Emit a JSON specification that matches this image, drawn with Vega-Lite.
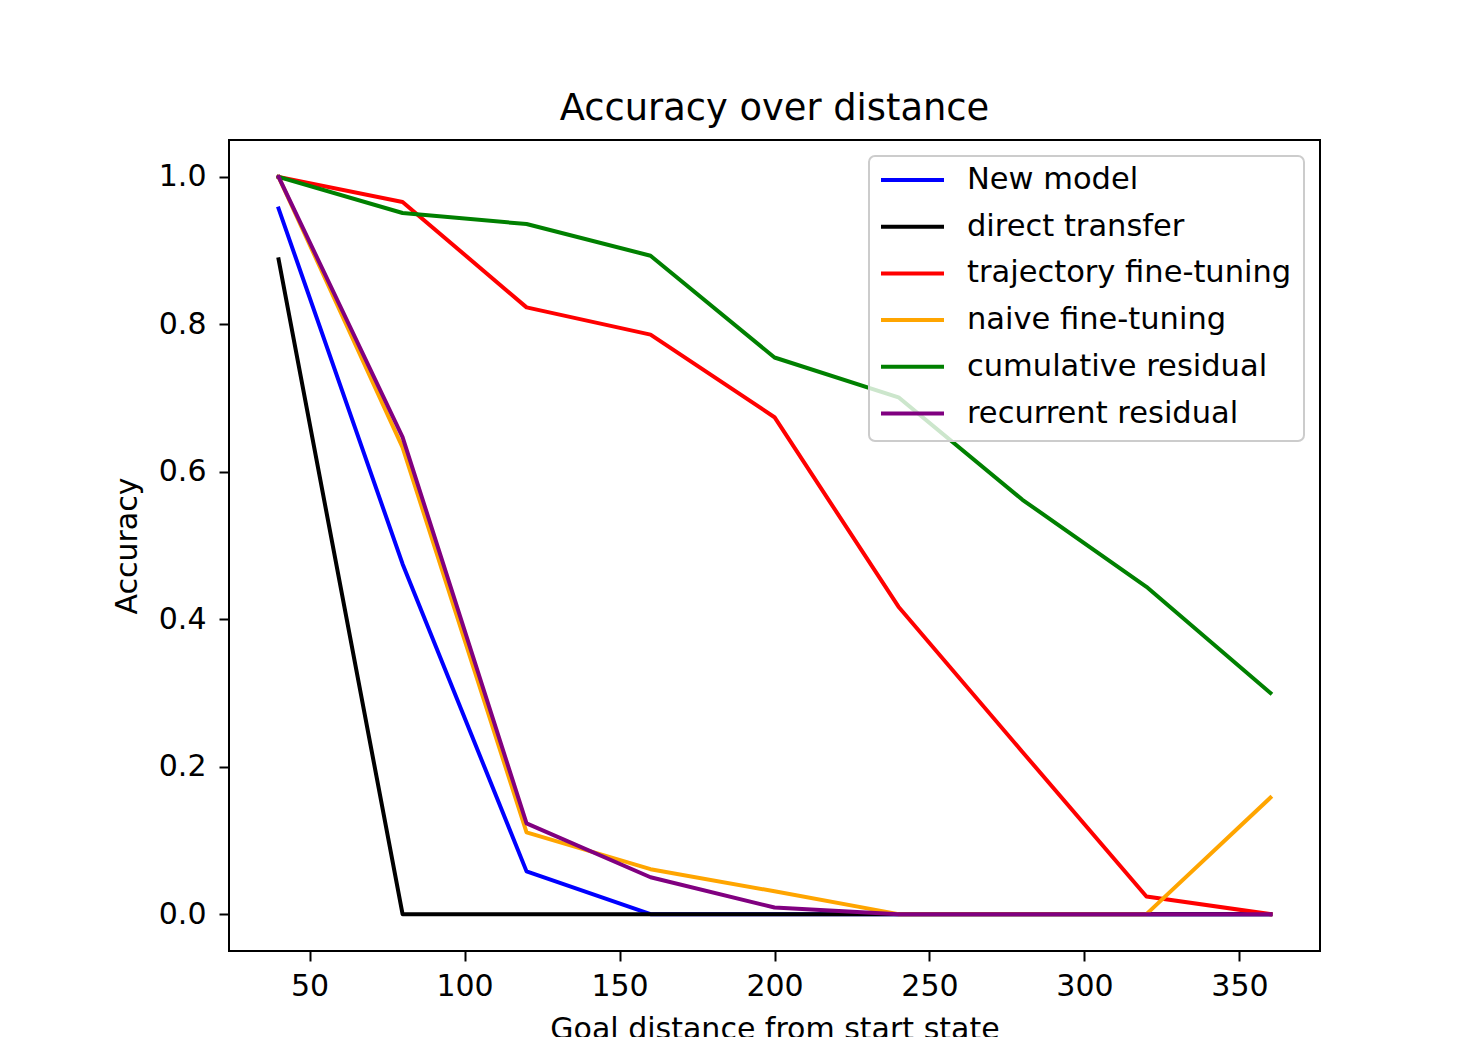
{
  "$schema": "https://vega.github.io/schema/vega-lite/v6.json",
  "width": 1091,
  "height": 811,
  "autosize": {"type": "none"},
  "padding": {"left": 229, "top": 140, "right": 157, "bottom": 86},
  "background": "#ffffff",
  "title": {
    "text": "Accuracy over distance",
    "font": "DejaVu Sans",
    "fontSize": 36.8,
    "fontWeight": "normal",
    "color": "#000000",
    "anchor": "middle",
    "offset": 12
  },
  "config": {
    "view": {"stroke": "#000000", "strokeWidth": 2},
    "font": "DejaVu Sans",
    "legend": {"strokeWidth": 2}
  },
  "data": {
    "values": [
      {"series": "New model", "distance": 40, "accuracy": 0.957},
      {"series": "New model", "distance": 80, "accuracy": 0.475},
      {"series": "New model", "distance": 120, "accuracy": 0.058},
      {"series": "New model", "distance": 160, "accuracy": 0.0},
      {"series": "New model", "distance": 200, "accuracy": 0.0},
      {"series": "New model", "distance": 240, "accuracy": 0.0},
      {"series": "New model", "distance": 280, "accuracy": 0.0},
      {"series": "New model", "distance": 320, "accuracy": 0.0},
      {"series": "New model", "distance": 360, "accuracy": 0.0},
      {"series": "direct transfer", "distance": 40, "accuracy": 0.888},
      {"series": "direct transfer", "distance": 80, "accuracy": 0.0},
      {"series": "direct transfer", "distance": 120, "accuracy": 0.0},
      {"series": "direct transfer", "distance": 160, "accuracy": 0.0},
      {"series": "direct transfer", "distance": 200, "accuracy": 0.0},
      {"series": "direct transfer", "distance": 240, "accuracy": 0.0},
      {"series": "direct transfer", "distance": 280, "accuracy": 0.0},
      {"series": "direct transfer", "distance": 320, "accuracy": 0.0},
      {"series": "direct transfer", "distance": 360, "accuracy": 0.0},
      {"series": "trajectory fine-tuning", "distance": 40, "accuracy": 1.0},
      {"series": "trajectory fine-tuning", "distance": 80, "accuracy": 0.966},
      {"series": "trajectory fine-tuning", "distance": 120, "accuracy": 0.823},
      {"series": "trajectory fine-tuning", "distance": 160, "accuracy": 0.786},
      {"series": "trajectory fine-tuning", "distance": 200, "accuracy": 0.674},
      {"series": "trajectory fine-tuning", "distance": 240, "accuracy": 0.417},
      {"series": "trajectory fine-tuning", "distance": 280, "accuracy": 0.22},
      {"series": "trajectory fine-tuning", "distance": 320, "accuracy": 0.024},
      {"series": "trajectory fine-tuning", "distance": 360, "accuracy": 0.0},
      {"series": "naive fine-tuning", "distance": 40, "accuracy": 1.0},
      {"series": "naive fine-tuning", "distance": 80, "accuracy": 0.633},
      {"series": "naive fine-tuning", "distance": 120, "accuracy": 0.111},
      {"series": "naive fine-tuning", "distance": 160, "accuracy": 0.061},
      {"series": "naive fine-tuning", "distance": 200, "accuracy": 0.031},
      {"series": "naive fine-tuning", "distance": 240, "accuracy": 0.0},
      {"series": "naive fine-tuning", "distance": 280, "accuracy": 0.0},
      {"series": "naive fine-tuning", "distance": 320, "accuracy": 0.0},
      {"series": "naive fine-tuning", "distance": 360, "accuracy": 0.158},
      {"series": "cumulative residual", "distance": 40, "accuracy": 1.0},
      {"series": "cumulative residual", "distance": 80, "accuracy": 0.951},
      {"series": "cumulative residual", "distance": 120, "accuracy": 0.936},
      {"series": "cumulative residual", "distance": 160, "accuracy": 0.893},
      {"series": "cumulative residual", "distance": 200, "accuracy": 0.755},
      {"series": "cumulative residual", "distance": 240, "accuracy": 0.701},
      {"series": "cumulative residual", "distance": 280, "accuracy": 0.562},
      {"series": "cumulative residual", "distance": 320, "accuracy": 0.444},
      {"series": "cumulative residual", "distance": 360, "accuracy": 0.3},
      {"series": "recurrent residual", "distance": 40, "accuracy": 1.0},
      {"series": "recurrent residual", "distance": 80, "accuracy": 0.647},
      {"series": "recurrent residual", "distance": 120, "accuracy": 0.123},
      {"series": "recurrent residual", "distance": 160, "accuracy": 0.05},
      {"series": "recurrent residual", "distance": 200, "accuracy": 0.009},
      {"series": "recurrent residual", "distance": 240, "accuracy": 0.0},
      {"series": "recurrent residual", "distance": 280, "accuracy": 0.0},
      {"series": "recurrent residual", "distance": 320, "accuracy": 0.0},
      {"series": "recurrent residual", "distance": 360, "accuracy": 0.0}
    ]
  },
  "mark": {"type": "line", "strokeWidth": 4, "strokeCap": "square", "strokeJoin": "round"},
  "encoding": {
    "x": {
      "field": "distance",
      "type": "quantitative",
      "scale": {"domain": [24, 376], "nice": false, "zero": false},
      "axis": {
        "title": "Goal distance from start state",
        "values": [50, 100, 150, 200, 250, 300, 350],
        "grid": false,
        "domain": false,
        "ticks": true,
        "tickColor": "#000000",
        "tickWidth": 2,
        "tickSize": 10,
        "labelFont": "DejaVu Sans",
        "labelFontSize": 30,
        "labelColor": "#000000",
        "labelPadding": 10,
        "labelFlush": false,
        "titleFont": "DejaVu Sans",
        "titleFontSize": 30,
        "titleFontWeight": "normal",
        "titleColor": "#000000",
        "titlePadding": 13
      }
    },
    "y": {
      "field": "accuracy",
      "type": "quantitative",
      "scale": {"domain": [-0.05, 1.05], "nice": false, "zero": false},
      "axis": {
        "title": "Accuracy",
        "values": [0, 0.2, 0.4, 0.6, 0.8, 1.0],
        "format": ".1f",
        "grid": false,
        "domain": false,
        "tickColor": "#000000",
        "tickWidth": 2,
        "tickSize": 10,
        "labelFont": "DejaVu Sans",
        "labelFontSize": 30,
        "labelColor": "#000000",
        "labelPadding": 13,
        "labelFlush": false,
        "titleFont": "DejaVu Sans",
        "titleFontSize": 30,
        "titleFontWeight": "normal",
        "titleColor": "#000000",
        "titlePadding": 16
      }
    },
    "color": {
      "field": "series",
      "type": "nominal",
      "scale": {
        "domain": ["New model", "direct transfer", "trajectory fine-tuning", "naive fine-tuning", "cumulative residual", "recurrent residual"],
        "range": ["#0000ff", "#000000", "#ff0000", "#ffa500", "#008000", "#800080"]
      },
      "legend": {
        "title": null,
        "orient": "none",
        "legendX": 640,
        "legendY": 16,
        "padding": 12,
        "fillColor": "rgba(255,255,255,0.8)",
        "strokeColor": "#cccccc",
        "cornerRadius": 6,
        "symbolType": "stroke",
        "symbolSize": 4225,
        "symbolStrokeWidth": 4,
        "symbolOffset": -4,
        "clipHeight": 24,
        "rowPadding": 15.7,
        "labelFont": "DejaVu Sans",
        "labelFontSize": 30.5,
        "labelColor": "#000000",
        "labelOffset": 21,
        "labelLimit": 1000
      }
    }
  }
}
